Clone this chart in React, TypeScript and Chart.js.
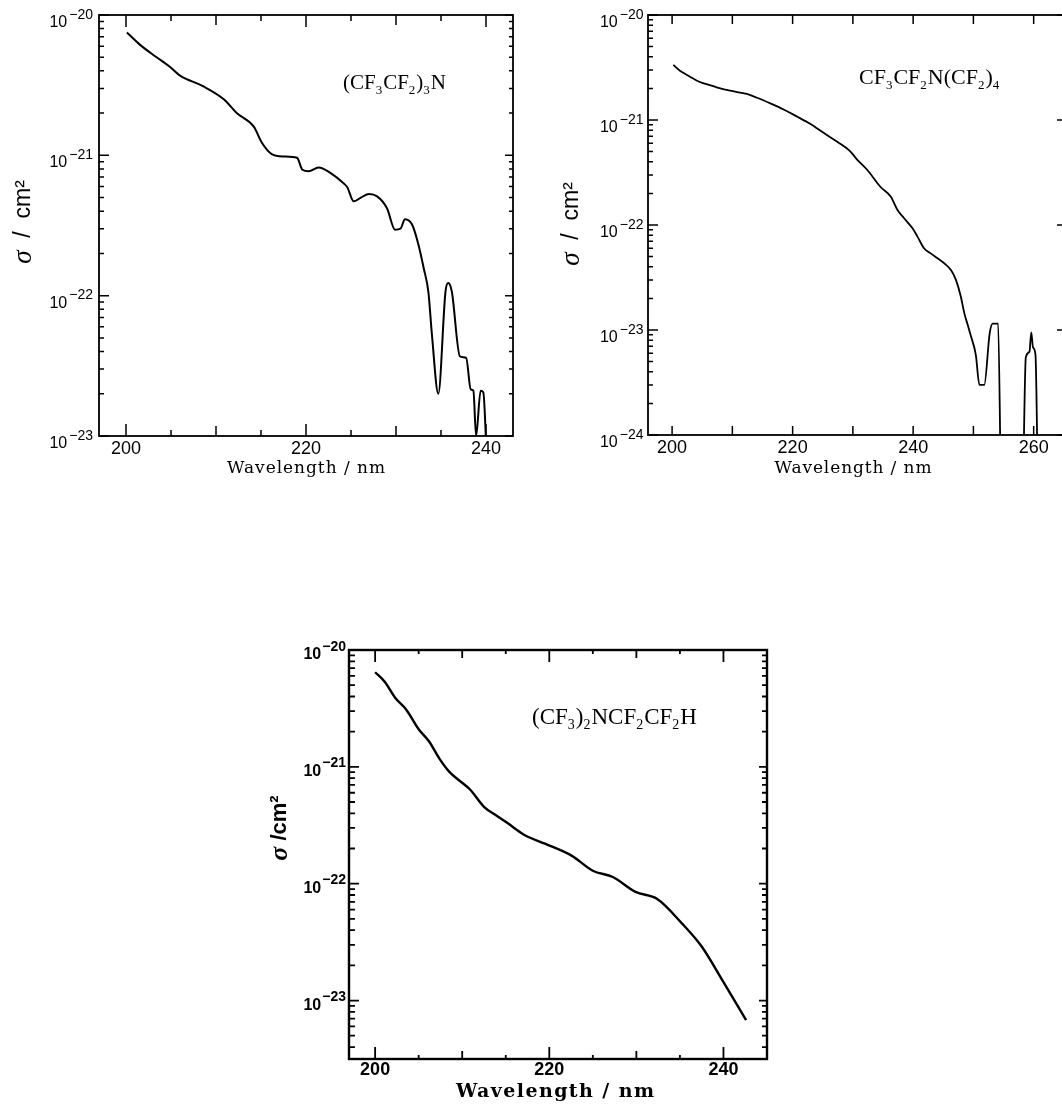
import React, { useEffect, useRef } from "react";
import { Chart, registerables } from "chart.js";

Chart.register(...registerables);

// ---------------- Panel A : (CF3CF2)3N ----------------
const wavelengthA = [
  200.1, 201.6, 203.4, 204.9, 206.0, 208.6, 210.9, 212.3, 214.2, 215.1,
  216.2, 217.5, 219.0, 219.6, 220.3, 221.4, 222.7, 224.2, 224.6, 225.3,
  226.1, 227.0, 227.9, 229.0, 229.9, 230.5, 231.0, 231.8, 232.5, 233.1,
  233.6, 234.0, 234.7, 235.5, 235.8, 236.2, 237.1, 237.8, 238.3, 238.6,
  238.9, 239.4, 239.7, 240.05,
];
const sigmaA = [
  7.5e-21, 6.1e-21, 5.0e-21, 4.26e-21, 3.7e-21, 3.1e-21, 2.5e-21, 2.0e-21, 1.6e-21, 1.23e-21,
  1.02e-21, 9.8e-22, 9.6e-22, 7.9e-22, 7.7e-22, 8.2e-22, 7.5e-22, 6.3e-22, 5.9e-22, 4.7e-22,
  5.0e-22, 5.3e-22, 5.1e-22, 4.2e-22, 2.95e-22, 3.0e-22, 3.5e-22, 3.2e-22, 2.3e-22, 1.55e-22,
  1.06e-22, 5.2e-23, 2.0e-23, 1.07e-22, 1.23e-22, 1.07e-22, 3.7e-23, 3.6e-23, 2.15e-23, 2.1e-23,
  1.0e-23, 2.1e-23, 2.05e-23, 8e-24,
];
const xTickLabelsA = [200, 220, 240];
const yDecadesA = [1e-20, 1e-21, 1e-22, 1e-23];
const formulaA = ["(CF", "_3", "CF", "_2", ")", "_3", "N"];

// ---------------- Panel B : CF3CF2N(CF2)4 ----------------
const wavelengthB = [
  200.2, 201.3, 202.4, 203.5, 204.6, 206.0, 207.4, 209.6, 212.4, 214.1,
  216.3, 218.5, 220.7, 222.9, 225.2, 227.4, 229.6, 230.7, 232.4, 234.6,
  236.3, 237.4, 238.5, 239.9, 240.7, 241.8, 242.9, 244.1, 245.2, 246.3,
  247.1, 247.9, 248.5, 249.05, 249.6, 250.4, 251.0, 251.8, 252.7, 253.2,
  254.1, 254.75, 258.0, 258.7, 259.3, 259.6, 259.9, 260.3, 260.8,
];
const sigmaB = [
  3.35e-21, 2.95e-21, 2.7e-21, 2.48e-21, 2.3e-21, 2.17e-21, 2.05e-21, 1.9e-21, 1.77e-21, 1.63e-21,
  1.44e-21, 1.26e-21, 1.08e-21, 9.2e-22, 7.5e-22, 6.2e-22, 5.0e-22, 4.2e-22, 3.34e-22, 2.3e-22,
  1.86e-22, 1.39e-22, 1.16e-22, 9.3e-23, 7.8e-23, 6.0e-23, 5.37e-23, 4.8e-23, 4.3e-23, 3.7e-23,
  3.0e-23, 2.1e-23, 1.44e-23, 1.12e-23, 8.7e-24, 5.8e-24, 3.0e-24, 3.0e-24, 9.3e-24, 1.15e-23,
  1.15e-23, 1e-25, 1e-25, 5.5e-24, 6.2e-24, 9.5e-24, 6.8e-24, 5.8e-24, 1e-25,
];
const xTickLabelsB = [200, 220, 240, 260];
const yDecadesB = [1e-20, 1e-21, 1e-22, 1e-23, 1e-24];
const formulaB = ["CF", "_3", "CF", "_2", "N(CF", "_2", ")", "_4"];

// ---------------- Panel C : (CF3)2NCF2CF2H ----------------
const wavelengthC = [
  200.0, 201.1, 202.3, 203.6, 205.0, 206.2, 207.4, 208.5, 209.7, 210.9,
  212.5, 214.0, 215.2, 217.2, 219.5, 222.6, 225.0, 227.3, 229.9, 232.4,
  235.2, 237.5, 239.9, 242.6,
];
const sigmaC = [
  6.45e-21, 5.35e-21, 3.9e-21, 3.07e-21, 2.1e-21, 1.65e-21, 1.17e-21, 9.1e-22, 7.6e-22, 6.4e-22,
  4.55e-22, 3.8e-22, 3.3e-22, 2.6e-22, 2.2e-22, 1.73e-22, 1.29e-22, 1.14e-22, 8.5e-23, 7.4e-23,
  4.6e-23, 2.9e-23, 1.48e-23, 6.8e-24,
];
const xTickLabelsC = [200, 220, 240];
const yDecadesC = [1e-20, 1e-21, 1e-22, 1e-23];
const formulaC = ["(CF", "_3", ")", "_2", "NCF", "_2", "CF", "_2", "H"];

const xTitle = "Wavelength / nm";

// ---------------- fonts ----------------
const SANS = '"Liberation Sans", Arial, Helvetica, sans-serif';
const SERIF = '"Liberation Serif", "Times New Roman", serif';
const TITLE_SERIF = '"DejaVu Serif", "Liberation Serif", serif';

// ---------------- layout (page coordinates) ----------------
type Panel = {
  box: { left: number; top: number; width: number; height: number };
  area: { l: number; t: number; r: number; b: number };
  xMin: number; xMax: number; yMin: number; yMax: number;
  wl: number[]; sigma: number[]; xLabels: number[]; yDecades: number[]; formula: string[];
  bold: boolean;
  lineWidth: number; frameWidth: number; tickWidth: number;
  xStep: number; xTickLen: [number, number, number];
  yTickLen: [number, number]; yTickLenR: [number, number];
  xLabelPad: number;
  yLab: { baseSize: number; expSize: number; gapRight: number; baseDy: number; expDy: number; gap: number };
  xTitlePos: { x: number; y: number; w: number; size: number };
  yTitle: { x: number; y: number; parts: { t: string; font: string }[] };
  formulaPos: { x: number; y: number; size: number };
};

const PANELS: Panel[] = [
  {
    box: { left: 0, top: 0, width: 530, height: 500 },
    area: { l: 99, t: 15, r: 513, b: 436 },
    xMin: 197, xMax: 243, yMin: 1e-23, yMax: 1e-20,
    wl: wavelengthA, sigma: sigmaA, xLabels: xTickLabelsA, yDecades: yDecadesA, formula: formulaA,
    bold: false, lineWidth: 2, frameWidth: 1.8, tickWidth: 1.5,
    xStep: 5, xTickLen: [12, 10, 6], yTickLen: [10, 5], yTickLenR: [8, 4],
    xLabelPad: 2,
    yLab: { baseSize: 16, expSize: 14, gapRight: 6, baseDy: 12, expDy: 3.5, gap: 2 },
    xTitlePos: { x: 306, y: 469, w: 158, size: 17 },
    yTitle: { x: 24, y: 222, parts: [{ t: "σ", font: `italic 27px ${SERIF}` }, { t: "  /  cm²", font: `23px ${SANS}` }] },
    formulaPos: { x: 343, y: 89, size: 21 },
  },
  {
    box: { left: 530, top: 0, width: 560, height: 500 },
    area: { l: 648, t: 15, r: 1065, b: 435 },
    xMin: 196, xMax: 265.2, yMin: 1e-24, yMax: 1e-20,
    wl: wavelengthB, sigma: sigmaB, xLabels: xTickLabelsB, yDecades: yDecadesB, formula: formulaB,
    bold: false, lineWidth: 1.8, frameWidth: 1.8, tickWidth: 1.5,
    xStep: 10, xTickLen: [9, 9, 9], yTickLen: [10, 5], yTickLenR: [8, 0],
    xLabelPad: 2,
    yLab: { baseSize: 16, expSize: 14, gapRight: 4.5, baseDy: 12, expDy: 3.5, gap: 2 },
    xTitlePos: { x: 853, y: 469, w: 157, size: 17 },
    yTitle: { x: 572, y: 224, parts: [{ t: "σ", font: `italic 27px ${SERIF}` }, { t: "  /  cm²", font: `23px ${SANS}` }] },
    formulaPos: { x: 859, y: 84, size: 22 },
  },
  {
    box: { left: 250, top: 620, width: 560, height: 491 },
    area: { l: 349, t: 650, r: 767, b: 1059 },
    xMin: 197, xMax: 245, yMin: 3.16e-24, yMax: 1e-20,
    wl: wavelengthC, sigma: sigmaC, xLabels: xTickLabelsC, yDecades: yDecadesC, formula: formulaC,
    bold: true, lineWidth: 2.4, frameWidth: 2.4, tickWidth: 1.8,
    xStep: 5, xTickLen: [12, 8, 4], yTickLen: [10, 6], yTickLenR: [8, 5],
    xLabelPad: 0,
    yLab: { baseSize: 16, expSize: 14, gapRight: 3, baseDy: 9, expDy: 0.5, gap: 1 },
    xTitlePos: { x: 555, y: 1092, w: 198, size: 19 },
    yTitle: { x: 280, y: 828, parts: [{ t: "σ", font: `italic bold 26px ${SERIF}` }, { t: " /cm²", font: `bold 22px ${SANS}` }] },
    formulaPos: { x: 532, y: 724, size: 23 },
  },
];

function drawRich(ctx: CanvasRenderingContext2D, parts: string[], x: number, y: number, size: number) {
  let cx = x;
  ctx.textAlign = "left";
  ctx.textBaseline = "alphabetic";
  for (const part of parts) {
    const sub = part.startsWith("_");
    const t = sub ? part.slice(1) : part;
    const s = sub ? Math.round(size * 0.6) : size;
    ctx.font = `${s}px ${SERIF}`;
    ctx.fillText(t, cx, sub ? y + size * 0.22 : y);
    cx += ctx.measureText(t).width + (sub ? 1 : 0);
  }
}

function makeChart(canvas: HTMLCanvasElement, p: Panel) {
  const ox = p.box.left;
  const oy = p.box.top;
  const weight = p.bold ? "bold" : "normal";

  const plugin = {
    id: "frameAndText",
    afterDraw(chart: any) {
      const ctx: CanvasRenderingContext2D = chart.ctx;
      const { left, right, top, bottom } = chart.chartArea;
      const xs = chart.scales.x;
      const ys = chart.scales.y;
      ctx.save();
      ctx.strokeStyle = "#000";
      ctx.fillStyle = "#000";

      // inward tick marks
      ctx.lineWidth = p.tickWidth;
      ctx.beginPath();
      for (let v = Math.ceil(p.xMin / p.xStep) * p.xStep; v <= p.xMax; v += p.xStep) {
        const len = v % 20 === 0 ? p.xTickLen[0] : v % 10 === 0 ? p.xTickLen[1] : p.xTickLen[2];
        const px = xs.getPixelForValue(v);
        ctx.moveTo(px, bottom);
        ctx.lineTo(px, bottom - len);
        ctx.moveTo(px, top);
        ctx.lineTo(px, top + len);
      }
      const kMin = Math.floor(Math.log10(p.yMin));
      const kMax = Math.round(Math.log10(p.yMax));
      for (let k = kMin; k <= kMax; k++) {
        for (let m = 1; m <= 9; m++) {
          const v = m * Math.pow(10, k);
          if (v < p.yMin * 0.999 || v > p.yMax * 1.001) continue;
          const py = ys.getPixelForValue(v);
          const lenL = m === 1 ? p.yTickLen[0] : p.yTickLen[1];
          const lenR = m === 1 ? p.yTickLenR[0] : p.yTickLenR[1];
          if (lenL > 0) {
            ctx.moveTo(left, py);
            ctx.lineTo(left + lenL, py);
          }
          if (lenR > 0) {
            ctx.moveTo(right, py);
            ctx.lineTo(right - lenR, py);
          }
        }
      }
      ctx.stroke();

      // frame
      ctx.lineWidth = p.frameWidth;
      ctx.strokeRect(left, top, right - left, bottom - top);

      // y tick labels 10^-n
      ctx.textAlign = "left";
      ctx.textBaseline = "alphabetic";
      for (const v of p.yDecades) {
        const py = ys.getPixelForValue(v);
        const exp = "−" + Math.abs(Math.round(Math.log10(v)));
        ctx.font = `${weight} ${p.yLab.expSize}px ${SANS}`;
        const we = ctx.measureText(exp).width;
        ctx.font = `${weight} ${p.yLab.baseSize}px ${SANS}`;
        const wb = ctx.measureText("10").width;
        const x0 = left - p.yLab.gapRight - we - p.yLab.gap - wb;
        ctx.fillText("10", x0, py + p.yLab.baseDy);
        ctx.font = `${weight} ${p.yLab.expSize}px ${SANS}`;
        ctx.fillText(exp, x0 + wb + p.yLab.gap, py + p.yLab.expDy);
      }

      // x axis title
      const tp = p.xTitlePos;
      ctx.font = `${weight} ${tp.size}px ${TITLE_SERIF}`;
      (ctx as any).letterSpacing = "0px";
      const w0 = ctx.measureText(xTitle).width;
      const ls = Math.max(0, (tp.w - w0) / (xTitle.length - 1));
      (ctx as any).letterSpacing = `${ls}px`;
      ctx.textBaseline = "middle";
      ctx.fillText(xTitle, tp.x - ox - tp.w / 2, tp.y - oy);
      (ctx as any).letterSpacing = "0px";

      // y axis title (rotated)
      ctx.save();
      ctx.translate(p.yTitle.x - ox, p.yTitle.y - oy);
      ctx.rotate(-Math.PI / 2);
      let total = 0;
      for (const part of p.yTitle.parts) {
        ctx.font = part.font;
        total += ctx.measureText(part.t).width;
      }
      let cx = -total / 2;
      ctx.textBaseline = "middle";
      for (const part of p.yTitle.parts) {
        ctx.font = part.font;
        ctx.fillText(part.t, cx, 0);
        cx += ctx.measureText(part.t).width;
      }
      ctx.restore();

      // compound name
      drawRich(ctx, p.formula, p.formulaPos.x - ox, p.formulaPos.y - oy, p.formulaPos.size);

      ctx.restore();
    },
  };

  const yAxisW = p.area.l - ox;
  const padTop = p.area.t - oy;
  const padRight = ox + p.box.width - p.area.r;
  const xAxisH = oy + p.box.height - p.area.b;

  return new Chart(canvas, {
    type: "line",
    data: {
      datasets: [
        {
          data: p.wl.map((x, i) => ({ x, y: p.sigma[i] })),
          borderColor: "#000",
          borderWidth: p.lineWidth,
          pointRadius: 0,
          cubicInterpolationMode: "monotone",
          fill: false,
        },
      ],
    },
    options: {
      animation: false,
      responsive: false,
      events: [],
      layout: { padding: { left: 0, top: padTop, right: padRight, bottom: 0 } },
      plugins: { legend: { display: false }, tooltip: { enabled: false }, title: { display: false } },
      scales: {
        x: {
          type: "linear",
          min: p.xMin,
          max: p.xMax,
          grid: { display: false, drawTicks: false },
          border: { display: false },
          afterBuildTicks: (s: any) => {
            s.ticks = p.xLabels.map((v) => ({ value: v }));
          },
          afterFit: (s: any) => {
            s.height = xAxisH;
          },
          ticks: {
            padding: p.xLabelPad,
            color: "#000",
            autoSkip: false,
            maxRotation: 0,
            font: { family: SANS, size: 18, weight: weight as any },
            callback: (v: any) => String(v),
          },
        },
        y: {
          type: "logarithmic",
          min: p.yMin,
          max: p.yMax,
          grid: { display: false, drawTicks: false },
          border: { display: false },
          afterBuildTicks: (s: any) => {
            s.ticks = p.yDecades.map((v) => ({ value: v }));
          },
          afterFit: (s: any) => {
            s.width = yAxisW;
          },
          ticks: { display: false },
        },
      },
    },
    plugins: [plugin],
  } as any);
}

function PanelCanvas({ p }: { p: Panel }) {
  const ref = useRef<HTMLCanvasElement>(null);
  useEffect(() => {
    if (!ref.current) return;
    const chart = makeChart(ref.current, p);
    return () => chart.destroy();
  }, [p]);
  return (
    <canvas
      ref={ref}
      width={p.box.width}
      height={p.box.height}
      style={{
        position: "absolute",
        left: p.box.left,
        top: p.box.top,
        width: p.box.width,
        height: p.box.height,
      }}
    />
  );
}

export default function App() {
  return (
    <div
      style={{
        position: "fixed",
        left: 0,
        top: 0,
        width: 1062,
        height: 1111,
        overflow: "hidden",
        background: "#fff",
      }}
    >
      {PANELS.map((p, i) => (
        <PanelCanvas key={i} p={p} />
      ))}
    </div>
  );
}
